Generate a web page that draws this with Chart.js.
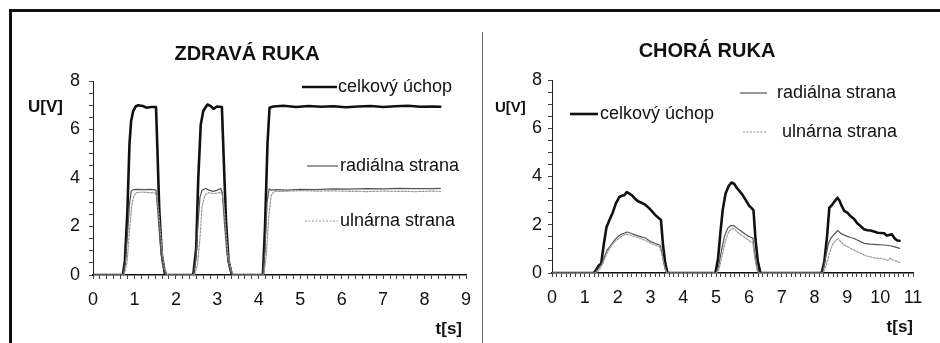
<!DOCTYPE html>
<html><head><meta charset="utf-8">
<script src="https://cdn.jsdelivr.net/npm/chart.js@4.4.1/dist/chart.umd.min.js"></script>
<style>
html,body{margin:0;padding:0;background:#fff;}
#page{position:relative;width:940px;height:343px;overflow:hidden;background:#fff;}
#frame{position:absolute;left:9px;top:9px;width:960px;height:400px;border-left:3px solid #111;border-top:3px solid #111;}
#divider{position:absolute;left:482px;top:32px;width:1px;height:320px;background:#666;}
canvas{position:absolute;top:0;}
</style></head><body>
<div id="page">
<div id="frame"></div><div id="divider"></div>
<canvas id="c1" width="483" height="343" style="left:0"></canvas>
<canvas id="c2" width="457" height="343" style="left:483px"></canvas>
</div>
<script>
// ---------- data ----------
const chartTitles = ['ZDRAVÁ RUKA', 'CHORÁ RUKA'];
const seriesLabels = ['celkový úchop', 'radiálna strana', 'ulnárna strana'];
const yAxisTitle = 'U[V]';
const xAxisTitle = 't[s]';
const yTickLabels = [0, 2, 4, 6, 8];
const xTickLabelsZdrava = [0, 1, 2, 3, 4, 5, 6, 7, 8, 9];
const xTickLabelsChora = [0, 1, 2, 3, 4, 5, 6, 7, 8, 9, 10, 11];

// ZDRAVÁ RUKA (healthy hand)
const zdravaCelkovyT = [0, 0.72, 0.77, 0.83, 0.88, 0.92, 0.97, 1.03, 1.09, 1.2, 1.29, 1.4, 1.52, 1.55, 1.60, 1.66, 1.74,
  2.42, 2.49, 2.54, 2.60, 2.66, 2.76, 2.85, 2.91, 2.99, 3.11, 3.15, 3.21, 3.27, 3.35,
  4.10, 4.15, 4.21, 4.26, 4.35, 4.6, 4.9, 5.2, 5.5, 5.8, 6.1, 6.4, 6.7, 7.0, 7.3, 7.6, 7.9, 8.2, 8.38];
const zdravaCelkovyU = [0, 0, 0.58, 2.64, 5.4, 6.35, 6.76, 6.95, 7.0, 6.97, 6.9, 6.93, 6.93, 5.4, 2.64, 0.85, 0,
  0, 1.1, 4.0, 6.2, 6.76, 7.03, 6.95, 6.85, 6.95, 6.93, 5.0, 2.2, 0.6, 0,
  0, 1.95, 5.4, 6.9, 6.95, 6.98, 6.93, 6.97, 6.94, 6.96, 6.92, 6.95, 6.97, 6.93, 6.96, 6.98, 6.94, 6.95, 6.94];

const zdravaRadialnaT = [0, 0.72, 0.78, 0.83, 0.88, 0.92, 0.97, 1.1, 1.25, 1.4, 1.52, 1.56, 1.62, 1.68, 1.76,
  2.42, 2.48, 2.53, 2.58, 2.63, 2.72, 2.8, 2.9, 3.0, 3.08, 3.12, 3.17, 3.23, 3.3, 3.37,
  4.10, 4.15, 4.2, 4.25, 4.3, 4.4, 4.7, 5.0, 5.4, 5.8, 6.2, 6.6, 7.0, 7.4, 7.8, 8.2, 8.38];
const zdravaRadialnaU = [0, 0, 0.5, 1.6, 2.9, 3.45, 3.52, 3.53, 3.52, 3.53, 3.5, 2.7, 1.3, 0.4, 0,
  0, 0.6, 2.0, 3.2, 3.5, 3.57, 3.5, 3.45, 3.5, 3.57, 3.4, 2.2, 0.9, 0.2, 0,
  0, 1.0, 3.0, 3.55, 3.5, 3.52, 3.5, 3.53, 3.52, 3.55, 3.54, 3.56, 3.55, 3.57, 3.56, 3.56, 3.57];

const zdravaUlnarnaT = [0, 0.75, 0.82, 0.88, 0.93, 0.98, 1.05, 1.2, 1.35, 1.5, 1.55, 1.6, 1.66, 1.72, 1.8,
  2.45, 2.52, 2.58, 2.63, 2.7, 2.8, 2.9, 3.0, 3.1, 3.15, 3.2, 3.26, 3.33, 3.4,
  4.12, 4.18, 4.24, 4.3, 4.38, 4.6, 5.0, 5.4, 5.8, 6.2, 6.6, 7.0, 7.4, 7.8, 8.2, 8.38];
const zdravaUlnarnaU = [0, 0, 0.5, 1.8, 2.8, 3.25, 3.4, 3.42, 3.4, 3.38, 3.2, 2.3, 1.1, 0.3, 0,
  0, 0.4, 1.5, 2.8, 3.3, 3.4, 3.35, 3.38, 3.4, 3.1, 2.0, 0.8, 0.2, 0,
  0, 0.8, 2.4, 3.3, 3.45, 3.45, 3.48, 3.46, 3.47, 3.45, 3.44, 3.46, 3.45, 3.44, 3.46, 3.45];

// CHORÁ RUKA (affected hand)
const choraCelkovyT = [0, 1.27, 1.33, 1.42, 1.50, 1.58, 1.66, 1.75, 1.85, 1.95, 2.05, 2.12, 2.2, 2.28, 2.35, 2.45, 2.55, 2.65, 2.75, 2.85, 2.95, 3.05, 3.15, 3.25, 3.32, 3.38, 3.45, 3.52,
  4.98, 5.06, 5.13, 5.2, 5.29, 5.38, 5.47, 5.55, 5.62, 5.70, 5.80, 5.90, 6.0, 6.09, 6.14, 6.2, 6.27, 6.35,
  8.22, 8.30, 8.38, 8.45, 8.52, 8.6, 8.70, 8.76, 8.82, 8.9, 9.0, 9.10, 9.2, 9.30, 9.40, 9.51, 9.61, 9.71, 9.81, 9.92, 10.02, 10.12, 10.2, 10.28, 10.36, 10.45, 10.52, 10.59];
const choraCelkovyU = [0, 0, 0.1, 0.3, 0.4, 1.2, 1.9, 2.2, 2.5, 2.9, 3.15, 3.2, 3.22, 3.35, 3.3, 3.2, 3.05, 2.95, 2.9, 2.82, 2.7, 2.55, 2.4, 2.28, 2.2, 1.2, 0.4, 0,
  0, 0.6, 1.65, 2.6, 3.3, 3.6, 3.75, 3.7, 3.55, 3.42, 3.25, 3.03, 2.8, 2.68, 2.6, 1.4, 0.5, 0,
  0, 0.5, 1.5, 2.7, 2.8, 2.95, 3.12, 3.0, 2.8, 2.58, 2.5, 2.35, 2.25, 2.06, 1.95, 1.81, 1.77, 1.76, 1.72, 1.67, 1.66, 1.65, 1.55, 1.58, 1.6, 1.42, 1.35, 1.34];

const choraRadialnaT = [0, 1.3, 1.42, 1.5, 1.58, 1.68, 1.79, 1.9, 2.0, 2.1, 2.2, 2.3, 2.4, 2.5, 2.6, 2.72, 2.85, 2.95, 3.05, 3.15, 3.3, 3.38, 3.45, 3.5,
  5.0, 5.08, 5.16, 5.25, 5.35, 5.45, 5.55, 5.65, 5.75, 5.85, 5.95, 6.05, 6.12, 6.18, 6.25, 6.32,
  8.24, 8.32, 8.42, 8.5, 8.6, 8.70, 8.8, 8.89, 9.0, 9.1, 9.2, 9.30, 9.4, 9.51, 9.7, 9.9, 10.12, 10.3, 10.45, 10.59];
const choraRadialnaU = [0, 0, 0.2, 0.35, 0.6, 0.95, 1.15, 1.35, 1.5, 1.6, 1.65, 1.7, 1.65, 1.6, 1.55, 1.5, 1.45, 1.35, 1.28, 1.22, 1.15, 0.6, 0.15, 0,
  0, 0.3, 0.9, 1.5, 1.85, 1.97, 1.95, 1.85, 1.75, 1.65, 1.55, 1.48, 1.45, 0.8, 0.2, 0,
  0, 0.5, 1.2, 1.45, 1.6, 1.76, 1.65, 1.58, 1.52, 1.47, 1.43, 1.37, 1.3, 1.23, 1.2, 1.18, 1.16, 1.13, 1.08, 1.02];

const choraUlnarnaT = [0, 1.35, 1.45, 1.55, 1.65, 1.75, 1.85, 1.95, 2.05, 2.15, 2.25, 2.35, 2.5, 2.6, 2.72, 2.85, 2.95, 3.05, 3.15, 3.28, 3.35, 3.42, 3.5,
  5.02, 5.1, 5.18, 5.28, 5.38, 5.48, 5.56, 5.65, 5.75, 5.85, 5.95, 6.05, 6.12, 6.18, 6.25, 6.3,
  8.26, 8.35, 8.45, 8.55, 8.65, 8.72, 8.8, 8.89, 9.0, 9.1, 9.2, 9.3, 9.4, 9.51, 9.6, 9.72, 9.82, 9.92, 10.05, 10.15, 10.23, 10.3, 10.38, 10.47, 10.59];
const choraUlnarnaU = [0, 0, 0.15, 0.4, 0.75, 1.0, 1.2, 1.35, 1.45, 1.55, 1.6, 1.58, 1.52, 1.48, 1.42, 1.35, 1.28, 1.2, 1.15, 1.08, 0.8, 0.3, 0,
  0, 0.2, 0.7, 1.3, 1.7, 1.85, 1.82, 1.7, 1.58, 1.5, 1.4, 1.3, 1.25, 0.6, 0.1, 0,
  0, 0.3, 0.8, 1.2, 1.35, 1.42, 1.3, 1.16, 1.1, 1.02, 0.95, 0.88, 0.82, 0.75, 0.7, 0.66, 0.63, 0.61, 0.6, 0.56, 0.52, 0.62, 0.55, 0.5, 0.44];

// ---------- helpers ----------
const FONT = '"Liberation Sans", Arial, Helvetica, sans-serif';
const pts = (t, u) => t.map((x, i) => ({ x: x, y: u[i] }));

const seriesStyles = [
  { borderColor: '#111', borderWidth: 2.6, borderDash: [] },
  { borderColor: '#555', borderWidth: 1.2, borderDash: [] },
  { borderColor: '#9a9a9a', borderWidth: 1.2, borderDash: [2, 1.5] }
];

function makeDatasets(list) {
  return list.map((d, i) => Object.assign({
    label: seriesLabels[i],
    data: pts(d[0], d[1]),
    pointRadius: 0,
    tension: 0,
    fill: false,
    borderJoinStyle: 'round',
    borderCapStyle: 'round'
  }, seriesStyles[i])).reverse();
}

const panelText = {
  id: 'panelText',
  afterDraw(chart, args, o) {
    const ctx = chart.ctx;
    ctx.save();
    ctx.fillStyle = '#111';
    ctx.font = 'bold 20px ' + FONT;
    ctx.textAlign = 'center';
    ctx.textBaseline = 'alphabetic';
    ctx.fillText(o.title, o.titleX, o.titleY);
    ctx.font = 'bold ' + o.yLabelSize + 'px ' + FONT;
    ctx.textAlign = 'left';
    ctx.fillText(yAxisTitle, o.yLabelX, o.yLabelY);
    ctx.font = 'bold 17px ' + FONT;
    ctx.textAlign = 'right';
    ctx.fillText(xAxisTitle, o.xLabelX, o.xLabelY);
    o.legend.forEach(it => {
      const ds = chart.data.datasets.find(d => d.label === seriesLabels[it.s]);
      ctx.strokeStyle = ds.borderColor;
      ctx.lineWidth = ds.borderWidth;
      ctx.setLineDash(ds.borderDash || []);
      ctx.beginPath();
      ctx.moveTo(it.x1, it.y);
      ctx.lineTo(it.x2, it.y);
      ctx.stroke();
      ctx.setLineDash([]);
      ctx.font = '18px ' + FONT;
      ctx.textAlign = 'left';
      ctx.textBaseline = 'middle';
      ctx.fillText(ds.label, it.tx, it.y);
    });
    ctx.restore();
  }
};

function makeChart(id, datasets, cfg) {
  const n = Math.round(cfg.xMax * cfg.xMinor);
  return new Chart(document.getElementById(id), {
    type: 'line',
    data: { datasets: datasets },
    plugins: [panelText],
    options: {
      responsive: false,
      animation: false,
      devicePixelRatio: 1,
      layout: { padding: cfg.padding },
      plugins: { legend: { display: false }, tooltip: { enabled: false }, title: { display: false }, panelText: cfg.text },
      scales: {
        x: {
          type: 'linear', min: 0, max: cfg.xMax,
          afterBuildTicks: s => { const t = []; for (let i = 0; i <= n; i++) t.push({ value: i / cfg.xMinor }); s.ticks = t; },
          afterFit: s => { s.height = cfg.xHeight; },
          ticks: {
            autoSkip: false, maxRotation: 0, minRotation: 0, padding: 10, color: '#111',
            font: { size: 18, family: FONT },
            callback: v => { const r = Math.round(v); return (Math.abs(v - r) < 1e-6 && cfg.xLabels.includes(r)) ? String(r) : ''; }
          },
          grid: { drawOnChartArea: false, drawTicks: true, tickLength: 4, tickColor: '#444', tickWidth: 1 },
          border: { display: true, color: '#111', width: 1.5 }
        },
        y: {
          type: 'linear', min: 0, max: 8,
          afterBuildTicks: s => { const t = []; for (let i = 0; i <= 16; i++) t.push({ value: i * 0.5 }); s.ticks = t; },
          afterFit: s => { s.width = cfg.yWidth; },
          ticks: {
            autoSkip: false, padding: cfg.yPad, color: '#111',
            font: { size: 18, family: FONT },
            callback: v => { const r = Math.round(v); return (Math.abs(v - r) < 1e-6 && yTickLabels.includes(r)) ? String(r) : ''; }
          },
          grid: { drawOnChartArea: false, drawTicks: true, tickLength: 4, tickColor: '#444', tickWidth: 1 },
          border: { display: true, color: '#222', width: 1 }
        }
      }
    }
  });
}

makeChart('c1', makeDatasets([
  [zdravaCelkovyT, zdravaCelkovyU], [zdravaRadialnaT, zdravaRadialnaU], [zdravaUlnarnaT, zdravaUlnarnaU]
]), {
  xMax: 9, xMinor: 6, xLabels: xTickLabelsZdrava, xHeight: 68, yWidth: 93, yPad: 9,
  padding: { left: 0, top: 81, right: 17, bottom: 0 },
  text: {
    title: chartTitles[0], titleX: 247, titleY: 60,
    yLabelSize: 17, yLabelX: 28, yLabelY: 112,
    xLabelX: 462, xLabelY: 334,
    legend: [
      { s: 0, x1: 302, x2: 337, y: 87, tx: 338 },
      { s: 1, x1: 307, x2: 338, y: 166, tx: 340 },
      { s: 2, x1: 305, x2: 338, y: 221, tx: 340 }
    ]
  }
});

makeChart('c2', makeDatasets([
  [choraCelkovyT, choraCelkovyU], [choraRadialnaT, choraRadialnaU], [choraUlnarnaT, choraUlnarnaU]
]), {
  xMax: 11, xMinor: 7, xLabels: xTickLabelsChora, xHeight: 70, yWidth: 69, yPad: 6,
  padding: { left: 0, top: 80, right: 27, bottom: 0 },
  text: {
    title: chartTitles[1], titleX: 224, titleY: 57,
    yLabelSize: 15, yLabelX: 12, yLabelY: 112,
    xLabelX: 430, xLabelY: 332,
    legend: [
      { s: 0, x1: 87, x2: 115, y: 114, tx: 117 },
      { s: 1, x1: 257, x2: 284, y: 93, tx: 294 },
      { s: 2, x1: 260, x2: 284, y: 132, tx: 299 }
    ]
  }
});
</script>
</body></html>
